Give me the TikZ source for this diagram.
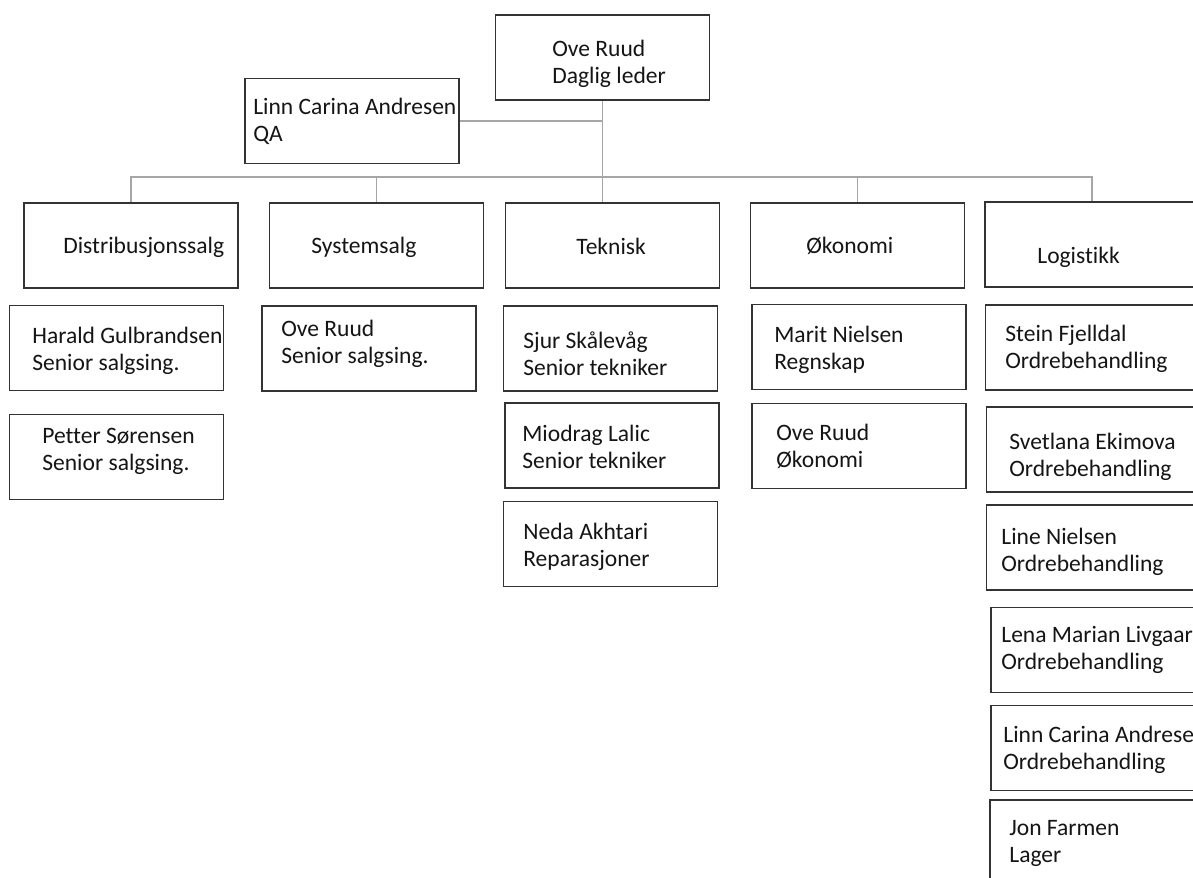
\documentclass[tikz,border=0pt]{standalone}
\usepackage{fontspec}
\setmainfont{Carlito}[Ligatures=NoCommon]
\usetikzlibrary{positioning}
\definecolor{boxgray}{HTML}{333333}
\definecolor{linkgray}{HTML}{A6A6A6}
\definecolor{textgray}{HTML}{151515}
\tikzset{
	unit/.style={draw=boxgray, line width=1pt, fill=white, minimum width=4.28cm, minimum height=1.7cm, inner sep=0pt},
	txt/.style={anchor=west, align=left, inner sep=0pt, text=textgray, font=\fontsize{13.4}{15.4}\selectfont},
	link/.style={draw=linkgray, line width=0.7pt}
}
\begin{document}
\begin{tikzpicture}[x=0.02cm, y=-0.02cm]
		\clip (0,0) rectangle (1193,878);
		\fill[white] (0,0) rectangle (1193,878);
		
		%Boxes
		\node (leder) at (602.5,57.5) [unit]{};
		\node (qa) at (352,121) [unit]{};
		\node (dist) at (131,245.5) [unit]{};
		\node (system) at (376.5,245.5) [unit]{};
		\node (teknisk) at (612.5,245.5) [unit]{};
		\node (okonomi) at (857.5,245.5) [unit]{};
		\node (logistikk) at (1092,244.5) [unit]{};
		
		\node (harald) at (116.5,348) [unit]{};
		\node (petter) at (116.5,457) [unit]{};
		\node (oveSys) at (369,348.5) [unit]{};
		\node (sjur) at (610.5,348.5) [unit]{};
		\node (miodrag) at (612,445.5) [unit]{};
		\node (neda) at (610.5,544) [unit]{};
		\node (marit) at (859,347) [unit]{};
		\node (oveOko) at (859,446) [unit]{};
		\node (stein) at (1092.5,347.5) [unit]{};
		\node (svetlana) at (1093.5,449.5) [unit]{};
		\node (line) at (1093.5,547.5) [unit]{};
		\node (lena) at (1098,650) [unit]{};
		\node (linn) at (1098,748) [unit]{};
		\node (jon) at (1097,842.5) [unit]{};
		
		%Texts
		\node[txt] at (552,63.5) {Ove Ruud\\Daglig leder};
		\node[txt] at (253,121) {Linn Carina Andresen\\QA};
		\node[txt] at (63,247) {Distribusjonssalg};
		\node[txt] at (311,247) {Systemsalg};
		\node[txt] at (576,246) {Teknisk};
		\node[txt] at (806,246) {Økonomi};
		\node[txt] at (1037,257) {Logistikk};
		\node[txt] at (32,351) {Harald Gulbrandsen\\Senior salgsing.};
		\node[txt] at (42,451.5) {Petter Sørensen\\Senior salgsing.};
		\node[txt] at (281,343.5) {Ove Ruud\\Senior salgsing.};
		\node[txt] at (523,354) {Sjur Skålevåg\\Senior tekniker};
		\node[txt] at (522,446.5) {Miodrag Lalic\\Senior tekniker};
		\node[txt] at (523,546.5) {Neda Akhtari\\Reparasjoner};
		\node[txt] at (774,350) {Marit Nielsen\\Regnskap};
		\node[txt] at (776,446.5) {Ove Ruud\\Økonomi};
		\node[txt] at (1005,349) {Stein Fjelldal\\Ordrebehandling};
		\node[txt] at (1009,456.5) {Svetlana Ekimova\\Ordrebehandling};
		\node[txt] at (1001,552) {Line Nielsen\\Ordrebehandling};
		\node[txt] at (1001,650) {Lena Marian Livgaard\\Ordrebehandling};
		\node[txt] at (1003,750) {Linn Carina Andresen\\Ordrebehandling};
		\node[txt] at (1009,843.5) {Jon Farmen\\Lager};
		
		%Lines
		\coordinate (bus) at (602,177);
		\draw[link] (leder.south) -- (leder.south |- teknisk.north);
		\draw[link] (qa.east) -- (qa.east -| leder.south);
		\draw[link] (dist.north) -- (dist.north |- bus) -- (logistikk.north |- bus) -- (logistikk.north);
		\draw[link] (system.north |- bus) -- (system.north);
		\draw[link] (okonomi.north |- bus) -- (okonomi.north);
\end{tikzpicture}
\end{document}
